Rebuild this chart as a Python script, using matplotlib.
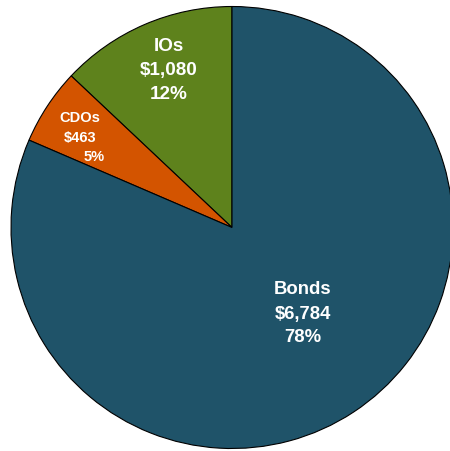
import matplotlib
matplotlib.use("Agg")
import matplotlib.pyplot as plt

# Portfolio composition ($ thousands)
categories = ["IOs", "CDOs", "Bonds"]
values = [1080, 463, 6784]
value_labels = ["$1,080", "$463", "$6,784"]
pct_labels = ["12%", "5%", "78%"]

colors = ["#5E821C", "#D35400", "#1F5369"]

plt.rcParams["font.family"] = ["Liberation Sans", "DejaVu Sans"]

fig = plt.figure(figsize=(4.50, 4.52), dpi=100)
ax = fig.add_axes([0, 0, 1, 1])

wedges, _ = ax.pie(values, colors=colors, startangle=90, counterclock=True,
                   radius=1.0, center=(0, 0),
                   wedgeprops=dict(edgecolor="black", linewidth=0.8))

# Frame: pie centre sits slightly right of the figure middle, right edge clipped
scale = 221.0
cx, cy = 232.0, 228.5
ax.set_xlim(-cx / scale, (450 - cx) / scale)
ax.set_ylim((cy - 452) / scale, cy / scale)
ax.set_aspect("auto")
ax.axis("off")

def px(x, y):
    return ((x - cx) / scale, (cy - y) / scale)

# Label placement (pixel centres of each text line) and font sizes
label_layout = {
    "IOs": dict(lines=[(169, 47), (169, 71), (169, 95)], size=13.6),
    "CDOs": dict(lines=[(80, 118), (80, 138), (94, 157)], size=10.5),
    "Bonds": dict(lines=[(303, 290), (303, 314), (303, 338)], size=13.3),
}

for cat, val, pct in zip(categories, value_labels, pct_labels):
    lay = label_layout[cat]
    for (lx, ly), txt in zip(lay["lines"], [cat, val, pct]):
        x, y = px(lx, ly)
        ax.text(x, y, txt, ha="center", va="center", color="white",
                fontsize=lay["size"], fontweight="bold")

fig.savefig("out.png", dpi=100)
